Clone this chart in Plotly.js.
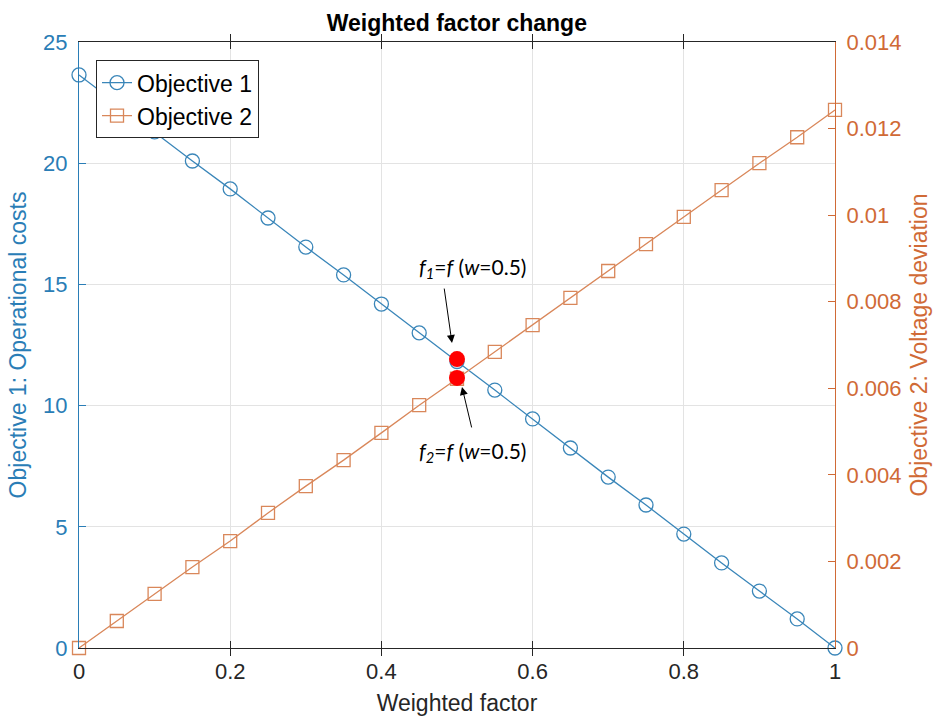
<!DOCTYPE html>
<html>
<head>
<meta charset="utf-8">
<script src="https://cdn.plot.ly/plotly-3.0.1.min.js"></script>
<style>html,body{margin:0;padding:0;background:#fff;}#chart{width:940px;height:716px;}</style>
</head>
<body>
<div id="chart"></div>
<script>
const weights = [0,0.05,0.1,0.15,0.2,0.25,0.3,0.35,0.4,0.45,0.5,0.55,0.6,0.65,0.7,0.75,0.8,0.85,0.9,0.95,1];
const objective1 = [23.64,22.45,21.29,20.09,18.94,17.74,16.54,15.39,14.19,13.0,11.82,10.64,9.45,8.25,7.05,5.9,4.70,3.51,2.35,1.2,0];
const objective2 = [0,0.000624,0.00125,0.00187,0.00247,0.00312,0.00374,0.00434,0.00497,0.00561,0.00622,0.00684,0.00746,0.00809,0.00871,0.00933,0.00996,0.01058,0.0112,0.0118,0.01243];
const highlightW = [0.5];
const highlightF1 = [11.92];
const highlightF2 = [0.00624];
const xTicks = [0,0.2,0.4,0.6,0.8,1];
const xTickText = ['0','0.2','0.4','0.6','0.8','1'];
const y1Ticks = [0,5,10,15,20,25];
const y2Ticks = [0,0.002,0.004,0.006,0.008,0.01,0.012,0.014];
const y2TickText = ['0','0.002','0.004','0.006','0.008','0.01','0.012','0.014'];

const BLUE_T = '#2a7db6';
const ORANGE_T = '#d06a36';
const FONT = 'Liberation Sans, Arial, sans-serif';
const ANN_FONT = 'Lato, Noto Sans, sans-serif';

const traces = [
  {x: weights, y: objective1, name: 'Objective 1', mode: 'lines+markers', yaxis: 'y',
   line: {color: '#3a86b9', width: 1.3}, marker: {symbol: 'circle-open', size: 14, color: '#3a86b9', line: {width: 1.3}},
   cliponaxis: false},
  {x: weights, y: objective2, name: 'Objective 2', mode: 'lines+markers', yaxis: 'y2',
   line: {color: '#d9875a', width: 1.3}, marker: {symbol: 'square-open', size: 13, color: '#d9875a', line: {width: 1.3}},
   cliponaxis: false},
  {x: highlightW, y: highlightF1, mode: 'markers', yaxis: 'y', showlegend: false,
   marker: {symbol: 'circle', size: 16, color: '#ff0000'}, cliponaxis: false},
  {x: highlightW, y: highlightF2, mode: 'markers', yaxis: 'y2', showlegend: false,
   marker: {symbol: 'circle', size: 16, color: '#ff0000'}, cliponaxis: false}
];

const layout = {
  width: 940, height: 716,
  margin: {l: 79, r: 105, t: 42, b: 68},
  paper_bgcolor: '#ffffff', plot_bgcolor: '#ffffff',
  font: {family: FONT, size: 22, color: '#262626'},
  title: {text: '<b>Weighted factor change</b>', font: {family: FONT, size: 23, color: '#000'}, x: 0.486, xanchor: 'center', y: 0.968, yanchor: 'middle'},
  showlegend: true,
  legend: {x: 0.0225, y: 0.97, xanchor: 'left', yanchor: 'top', bgcolor: '#ffffff', bordercolor: '#262626', borderwidth: 1,
           font: {family: FONT, size: 23, color: '#000'}},
  xaxis: {range: [0, 1], tickvals: xTicks, ticktext: xTickText, ticks: 'inside', ticklen: 7, tickcolor: '#262626',
          showline: true, linecolor: '#262626', linewidth: 1, mirror: 'allticks', showgrid: true, gridcolor: '#e3e3e3',
          zeroline: false, tickfont: {size: 22, color: '#262626'}, ticklabelstandoff: 4,
          title: {text: 'Weighted factor', font: {size: 23, color: '#262626'}, standoff: 11}},
  yaxis: {range: [0, 25], tickvals: y1Ticks, ticks: 'inside', ticklen: 7, tickcolor: BLUE_T, showline: true, linecolor: BLUE_T,
          linewidth: 1, showgrid: true, gridcolor: '#e3e3e3', zeroline: false, tickfont: {size: 22, color: BLUE_T},
          ticklabelstandoff: 6,
          title: {text: 'Objective 1: Operational costs', font: {size: 23, color: BLUE_T}, standoff: 10}},
  yaxis2: {range: [0, 0.014], tickvals: y2Ticks, ticktext: y2TickText, overlaying: 'y', side: 'right', ticks: 'inside', ticklen: 7,
           tickcolor: ORANGE_T, showline: true, linecolor: ORANGE_T, linewidth: 1, showgrid: false, zeroline: false,
           tickfont: {size: 22, color: ORANGE_T}, ticklabelstandoff: 6,
           title: {text: 'Objective 2: Voltage deviation', font: {size: 23, color: ORANGE_T}, standoff: 10}},
  annotations: [
    {x: 0.52, y: 15.68, xref: 'x', yref: 'y', showarrow: false,
     text: '<i>f</i><sub><i>1</i></sub>=<i>f</i> (<i>w</i>=0.5)', font: {family: ANN_FONT, size: 21, color: '#000'}},
    {x: 0.52, y: 8.09, xref: 'x', yref: 'y', showarrow: false,
     text: '<i>f</i><sub><i>2</i></sub>=<i>f</i> (<i>w</i>=0.5)', font: {family: ANN_FONT, size: 21, color: '#000'}},
    {x: 0.4934, y: 12.58, xref: 'x', yref: 'y', ax: -8, ay: -56, text: '', showarrow: true, arrowhead: 2, arrowsize: 1.6, arrowwidth: 1, arrowcolor: '#000'},
    {x: 0.5066, y: 10.77, xref: 'x', yref: 'y', ax: 10, ay: 42, text: '', showarrow: true, arrowhead: 2, arrowsize: 1.6, arrowwidth: 1, arrowcolor: '#000'}
  ]
};

Plotly.newPlot('chart', traces, layout, {displayModeBar: false, staticPlot: true});
</script>
</body>
</html>
